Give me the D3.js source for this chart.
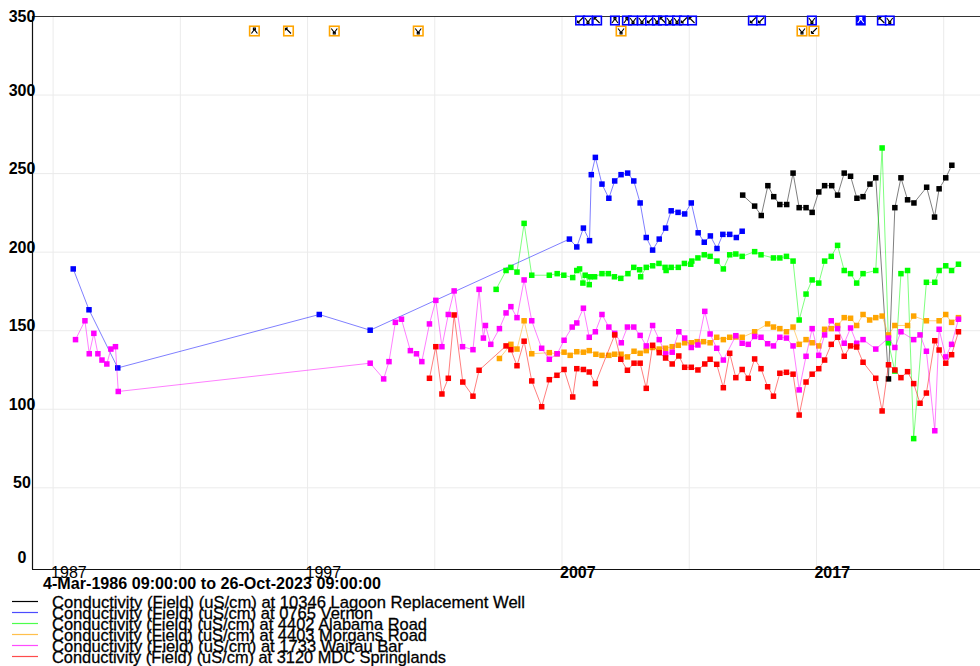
<!DOCTYPE html>
<html><head><meta charset="utf-8">
<script src="https://cdn.jsdelivr.net/npm/d3@7"></script>
<style>
html,body{margin:0;padding:0;background:#fff;}
svg{display:block;font-family:"Liberation Sans",Arial,Helvetica,sans-serif;}
</style></head><body>
<svg id="chart" width="980" height="666"></svg>
<script>
// ---- data (decimal year, conductivity uS/cm) ----
const rangeTitle = "4-Mar-1986 09:00:00 to 26-Oct-2023 09:00:00";
const seriesNames = [
  "Conductivity (Field) (uS/cm) at 10346 Lagoon Replacement Well",
  "Conductivity (Field) (uS/cm) at 0765 Vernon",
  "Conductivity (Field) (uS/cm) at 4402 Alabama Road",
  "Conductivity (Field) (uS/cm) at 4403 Morgans Road",
  "Conductivity (Field) (uS/cm) at 1733 Wairau Bar",
  "Conductivity (Field) (uS/cm) at 3120 MDC Springlands"
];
const seriesColors = ["#000000", "#0000ff", "#00ff00", "#ffa500", "#ff00ff", "#ff0000"];

const lagoon = [[2014.12,236],[2014.59,229],[2014.85,223],[2015.11,242],[2015.34,235],[2015.58,230],[2015.85,230],
  [2016.10,250],[2016.34,228],[2016.61,228],[2016.85,225],[2017.11,238],[2017.34,242],[2017.62,242],[2017.85,236],
  [2018.11,250],[2018.36,248],[2018.61,234],[2018.85,235],[2019.12,243],[2019.35,247],[2019.85,119],[2020.10,228],
  [2020.34,247],[2020.60,233],[2020.85,231],[2021.35,241],[2021.66,222],[2021.84,240],[2022.10,247],[2022.34,255]];

const vernon = [[1987.81,189],[1988.43,163],[1989.56,126],[1997.48,160],[1999.48,150],[2007.31,208],[2007.60,203],
  [2007.86,215],[2008.10,207],[2008.17,249],[2008.33,260],[2008.59,243],[2008.86,234],[2009.09,245],[2009.34,249],
  [2009.60,250],[2009.84,245],[2010.09,231],[2010.33,209],[2010.58,201],[2010.84,208],[2011.09,215],[2011.31,226],
  [2011.58,225],[2011.84,224],[2012.10,231],[2012.37,212],[2012.61,206],[2012.85,210],[2013.11,202],[2013.34,211],
  [2013.61,211],[2013.87,209],[2014.10,213]];

const alabama = [[2004.43,176],[2004.82,188],[2005.01,190],[2005.25,187],[2005.53,218],[2005.83,185],[2006.52,185],
  [2006.83,186],[2007.09,185],[2007.44,183.5],[2007.60,188],[2007.71,189],[2007.84,180],[2007.93,185],[2008.09,179],
  [2008.12,184],[2008.30,184],[2008.59,186],[2008.84,186],[2009.08,184],[2009.33,183],[2009.61,186],[2009.84,190],
  [2010.07,188.5],[2010.11,184],[2010.33,190],[2010.58,191],[2010.83,192.5],[2011.07,190],[2011.11,188],[2011.31,190],
  [2011.59,190],[2011.83,192.5],[2012.08,192],[2012.12,194],[2012.36,196],[2012.61,198],[2012.84,197],[2013.11,194],
  [2013.36,189],[2013.61,198],[2013.85,198.5],[2014.10,197],[2014.59,200],[2014.84,198],[2015.33,196],[2015.58,196],
  [2015.84,197],[2016.10,194],[2016.34,156.5],[2016.61,173],[2016.85,182],[2017.11,180],[2017.34,194],[2017.60,197],
  [2017.85,204],[2018.11,188],[2018.36,186],[2018.60,180],[2018.85,186],[2019.35,188],[2019.60,266],[2019.85,142],
  [2020.10,124],[2020.34,186],[2020.60,188],[2020.84,81],[2021.34,180.5],[2021.67,180.5],[2021.84,188],[2022.10,191],
  [2022.33,188],[2022.60,192]];

const morgans = [[2004.56,132],[2005.01,141],[2005.25,138],[2005.53,156],[2005.83,135],[2006.52,135.7],[2006.82,135],
  [2007.10,136],[2007.34,134],[2007.60,136.3],[2007.86,136],[2008.09,137],[2008.35,134.7],[2008.59,134],[2008.86,134],
  [2009.09,134.7],[2009.34,134.7],[2009.59,133],[2009.85,136.6],[2010.09,135.3],[2010.33,137],[2010.58,139],
  [2010.84,138],[2011.09,138.5],[2011.35,139.5],[2011.59,140.4],[2011.84,142],[2012.10,142],[2012.33,142.7],
  [2012.58,142.7],[2012.84,142],[2013.10,145.5],[2013.36,144],[2013.61,145.5],[2013.85,145.7],[2014.10,145.5],
  [2014.59,149],[2015.10,154],[2015.33,152],[2015.58,151],[2015.84,149],[2016.10,152],[2016.34,141],[2016.61,144],
  [2016.85,142],[2017.11,140],[2017.34,150.6],[2017.60,151],[2017.85,153],[2018.11,158],[2018.36,157.6],[2018.60,153],
  [2018.85,160],[2019.11,156.5],[2019.35,158],[2019.60,159],[2019.85,147],[2020.10,153],[2020.60,153],[2020.84,159],
  [2021.34,156],[2021.84,156],[2022.10,160],[2022.33,155],[2022.60,158]];

const wairau = [[1987.90,144],[1988.27,156],[1988.44,135],[1988.62,148],[1988.78,135],[1988.94,131],[1989.13,128.5],
  [1989.29,138],[1989.47,139.5],[1989.58,111],[1999.48,129],[2000.01,119],[2000.22,130],[2000.47,155],[2000.71,157],
  [2001.06,137],[2001.30,135],[2001.51,130],[2001.81,154],[2002.06,169],[2002.30,139.5],[2002.55,160],[2002.78,175],
  [2003.11,139.5],[2003.52,137.6],[2003.76,176],[2003.93,145],[2004.01,153],[2004.22,141],[2004.56,151],[2004.82,161],
  [2005.01,165],[2005.25,158],[2005.53,182],[2005.83,156],[2006.22,138.5],[2006.52,131.5],[2006.83,135],[2007.10,143.6],
  [2007.42,152],[2007.60,154.6],[2007.86,164],[2008.09,145.5],[2008.33,149],[2008.59,160],[2008.86,152],[2009.09,148],
  [2009.35,142],[2009.59,152],[2009.84,152],[2010.09,146.7],[2010.33,140],[2010.58,153],[2010.84,144],[2011.09,135],
  [2011.35,136],[2011.61,149],[2011.84,145],[2012.10,139],[2012.36,140.6],[2012.63,162],[2012.84,147.6],[2013.10,138.5],
  [2013.36,131],[2013.85,146.5],[2014.10,141.7],[2014.34,141],[2014.59,146],[2014.84,145.5],[2015.10,141.4],
  [2015.33,140],[2015.58,145.5],[2015.84,145],[2016.10,140],[2016.34,112],[2016.61,133.4],[2016.85,151],[2017.11,134],
  [2017.34,147],[2017.60,156],[2017.85,151],[2018.11,141.7],[2018.36,151.4],[2018.60,141.7],[2018.85,144],
  [2019.35,138],[2019.85,145],[2020.10,139],[2020.34,149],[2020.84,144],[2021.09,147],[2021.34,136.6],[2021.67,86],
  [2021.84,150.6],[2022.10,133],[2022.33,141],[2022.60,157]];

const springlands = [[2001.81,119.4],[2002.06,139.5],[2002.30,109.4],[2002.55,119.4],[2002.78,159.7],[2003.12,117],
  [2003.52,108],[2003.76,124.5],[2004.82,140],[2005.01,137.6],[2005.25,127.4],[2005.53,143],[2005.83,117.7],
  [2006.22,101.3],[2006.52,118.5],[2006.82,121.3],[2007.10,125],[2007.44,107.5],[2007.60,125.5],[2007.86,125],
  [2008.09,123.4],[2008.33,116],[2009.09,147],[2009.33,131.5],[2009.59,124.5],[2009.85,129],[2010.09,129],[2010.33,113],
  [2010.58,140.4],[2010.84,135.7],[2011.09,132.3],[2011.35,128.5],[2011.61,133.6],[2011.84,126.4],[2012.10,126.4],
  [2012.36,124.7],[2012.63,128.5],[2012.84,131.5],[2013.10,128.3],[2013.36,113.4],[2013.61,135.3],[2013.85,119.8],
  [2014.10,125],[2014.34,119.4],[2014.59,131.7],[2014.84,125.5],[2015.10,114],[2015.33,108],[2015.58,122.6],
  [2015.84,123.2],[2016.10,122],[2016.34,96],[2016.61,117],[2016.85,122],[2017.11,125.5],[2017.34,131],[2017.60,141],
  [2017.85,145.5],[2018.11,133.4],[2018.36,140],[2018.60,139.3],[2018.85,129.6],[2019.35,119.4],[2019.60,98.6],
  [2019.85,128],[2020.10,124.7],[2020.34,119.8],[2020.60,123.6],[2020.84,116],[2021.09,103.5],[2021.34,110],
  [2021.67,143.3],[2021.84,137.4],[2022.10,129],[2022.33,134.4],[2022.60,149]];

// comment flags (decimal year, glyph)
const vernonFlags = [[2007.73,'/'],[2008.04,'v'],[2008.40,'\\'],[2009.10,'^'],[2009.57,'^'],[2009.81,'v'],
  [2010.16,'v'],[2010.48,'/'],[2010.75,'v'],[2010.99,'\\'],[2011.26,'v'],[2011.54,'v'],[2011.81,'/'],[2012.13,'\\'],
  [2014.52,'/'],[2014.84,'/'],[2016.84,'v'],[2018.76,'^'],[2019.59,'\\'],[2019.90,'v']];
const morgansFlags = [[1994.93,'^'],[1996.27,'\\'],[1998.07,'v'],[2001.37,'v'],[2009.34,'v'],[2016.45,'v'],[2016.92,'/']];

const yTicks = [0, 50, 100, 150, 200, 250, 300, 350];
const gridYears = [1987, 1992, 1997, 2002, 2007, 2012, 2017, 2022];
const labelYears = [1987, 1997, 2007, 2017];

const allSeries = [lagoon, vernon, alabama, morgans, wairau, springlands];

// ---- layout ----
const W = 980, H = 666;
const plotLeft = 32, plotTop = 16, plotBottom = 569;
const svg = d3.select('#chart');

const x = d3.scaleLinear().domain([1986.17, 2023.82]).range([31.5, 989.5]);
const y = d3.scaleLinear().domain([-2, 350]).range([plotBottom, plotTop]);

// grid
const gridX = svg.append('g').attr('transform', `translate(0,${plotBottom})`)
  .call(d3.axisBottom(x).tickValues(gridYears).tickSize(-(plotBottom - plotTop)).tickFormat(''));
gridX.select('.domain').remove();
gridX.selectAll('line').attr('stroke', '#ebebeb').attr('stroke-width', 1);

const gridY = svg.append('g').attr('transform', `translate(${plotLeft},0)`)
  .call(d3.axisLeft(y).tickValues(yTicks.filter(v => v > 0 && v < 350)).tickSize(-(W - plotLeft)).tickFormat(''));
gridY.select('.domain').remove();
gridY.selectAll('line').attr('stroke', '#ebebeb').attr('stroke-width', 1);

// frame
svg.append('line').attr('x1', plotLeft).attr('x2', W).attr('y1', plotTop + 0.5).attr('y2', plotTop + 0.5)
  .attr('stroke', '#333').attr('stroke-width', 1.2);
svg.append('line').attr('x1', plotLeft).attr('x2', W).attr('y1', plotBottom + 0.5).attr('y2', plotBottom + 0.5)
  .attr('stroke', '#111').attr('stroke-width', 1.2);
svg.append('line').attr('x1', plotLeft + 0.5).attr('x2', plotLeft + 0.5).attr('y1', plotTop).attr('y2', plotBottom)
  .attr('stroke', '#111').attr('stroke-width', 1.2);

// y labels
const yLabelShift = v => v === 350 ? 5.5 : (v === 0 ? -2.5 : 1);
svg.append('g').selectAll('text').data(yTicks).join('text')
  .attr('x', 22).attr('y', v => y(v) + yLabelShift(v))
  .attr('text-anchor', 'middle').attr('font-size', 16).attr('font-weight', 'bold').attr('fill', '#000')
  .text(v => v);

// x labels (the two earlier ones sit under the range title and are drawn lighter)
svg.append('g').selectAll('text').data(labelYears).join('text')
  .attr('x', d => x(d) - 1.5).attr('y', 577.5)
  .attr('font-size', 16).attr('font-weight', d => d < 2000 ? 'normal' : 'bold').attr('fill', '#000')
  .text(d => d);

// series
const line = d3.line().x(d => x(d[0])).y(d => y(d[1]));
const plot = svg.append('g');
allSeries.forEach((data, i) => {
  const g = plot.append('g');
  g.append('path').datum(data).attr('d', line).attr('fill', 'none')
    .attr('stroke', seriesColors[i]).attr('stroke-opacity', 0.5).attr('stroke-width', 1);
  g.selectAll('rect').data(data).join('rect')
    .attr('x', d => x(d[0]) - 2.75).attr('y', d => y(d[1]) - 2.75)
    .attr('width', 5.5).attr('height', 5.5).attr('fill', seriesColors[i]);
});

// flags
const glyph = {
  'v': 'M-3,-2.5L0,1.5L3,-2.5M-1,1.5h2v1.5h-2z',
  '^': 'M-3,2.5L0,-1.5L3,2.5M-1,-3h2v1.5h-2z',
  '\\': 'M-3,-3L2.5,2.5M-3,-3h2.5M-3,-3v2.5',
  '/': 'M-2.5,2.5L3,-3M-2.5,2.5h2.5M-2.5,2.5v-2.5'
};
function drawFlags(list, color, cy, size, filledAt) {
  const g = svg.append('g');
  const fg = g.selectAll('g').data(list).join('g')
    .attr('transform', d => `translate(${x(d[0])},${cy})`);
  fg.append('rect').attr('x', -size / 2).attr('y', -size / 2).attr('width', size).attr('height', size)
    .attr('fill', d => d[0] === filledAt ? color : '#fff').attr('stroke', color).attr('stroke-width', 1.6);
  fg.append('path').attr('d', d => glyph[d[1]]).attr('fill', 'none')
    .attr('stroke', d => d[0] === filledAt ? '#fff' : '#000').attr('stroke-width', 1.1);
}
drawFlags(morgansFlags, '#ffa500', 31, 9.5, null);
drawFlags(vernonFlags, '#0000ff', 20.5, 8.5, 2018.76);

// range title
svg.append('text').attr('x', 43).attr('y', 588.5)
  .attr('font-size', 17).attr('font-weight', 'bold').attr('fill', '#000')
  .attr('textLength', 338).attr('lengthAdjust', 'spacingAndGlyphs')
  .text(rangeTitle);

// legend
const legendWidths = [473, 321, 375, 375, 351, 394];
const lg = svg.append('g');
seriesNames.forEach((name, i) => {
  const cy = 601.5 + i * 11.0;
  lg.append('line').attr('x1', 12).attr('x2', 38).attr('y1', cy).attr('y2', cy)
    .attr('stroke', seriesColors[i]).attr('stroke-opacity', i === 0 ? 1 : 0.7).attr('stroke-width', 1.2);
  lg.append('text').attr('x', 52).attr('y', cy + 6)
    .attr('font-size', 17).attr('fill', '#000')
    .attr('stroke', '#000').attr('stroke-width', 0.3)
    .attr('textLength', legendWidths[i]).attr('lengthAdjust', 'spacingAndGlyphs')
    .text(name);
});
</script>
</body></html>
